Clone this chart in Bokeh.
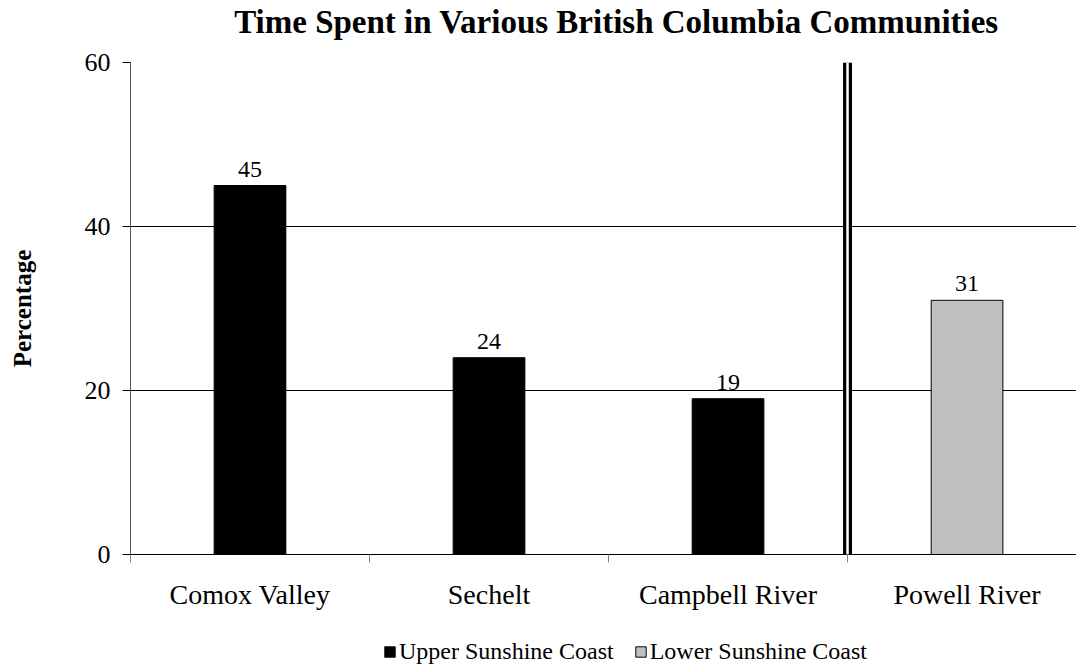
from bokeh.plotting import figure
from bokeh.layouts import column
from bokeh.models import (Range1d, FixedTicker, ColumnDataSource, Legend, LegendItem,
                          Span, Label, LabelSet)
from bokeh.embed import file_html
from bokeh.resources import INLINE

# ---- data ----
categories = ["Comox Valley", "Sechelt", "Campbell River", "Powell River"]
values = [45, 24, 19, 31]
regions = ["Upper Sunshine Coast", "Upper Sunshine Coast", "Upper Sunshine Coast",
           "Lower Sunshine Coast"]
region_names = ["Upper Sunshine Coast", "Lower Sunshine Coast"]
region_colors = {"Upper Sunshine Coast": "#000000", "Lower Sunshine Coast": "#C0C0C0"}
y_ticks = [0, 20, 40, 60]
title_text = "Time Spent in Various British Columbia Communities"
y_label = "Percentage"

FONT = "Liberation Serif"
W = 1076
LEFT = 130

centers = [i + 0.5 for i in range(len(categories))]
src = ColumnDataSource(dict(
    x=centers, top=values, cat=categories, region=regions,
    color=[region_colors[r] for r in regions],
    label=[str(v) for v in values],
))

# ---- title strip ----
t = figure(width=W, height=40, output_backend="svg", toolbar_location=None,
           x_axis_type=None, y_axis_type=None, min_border_left=LEFT,
           min_border_right=0, min_border_top=0, min_border_bottom=0,
           x_range=Range1d(0, 1), y_range=Range1d(0, 1))
t.outline_line_color = None
t.grid.visible = False
t.add_layout(Label(x=486, y=1, x_units="screen", y_units="screen", text=title_text,
                   text_align="center", text_baseline="bottom",
                   text_font=FONT, text_font_size="33px", text_font_style="bold",
                   text_color="black"))

# ---- main chart ----
p = figure(width=W, height=580, output_backend="svg", toolbar_location=None,
           x_range=Range1d(0, 3.958), y_range=Range1d(0, 60),
           min_border_left=LEFT, min_border_right=0, min_border_top=22,
           min_border_bottom=66)
p.outline_line_color = None
p.background_fill_color = "white"
p.border_fill_color = "white"

# bars
r = p.vbar(x="x", top="top", width=0.3, source=src, fill_color="color",
           line_color="black", line_width=1)

# value labels
p.add_layout(LabelSet(x="x", y="top", text="label", source=src, text_align="center",
                      text_baseline="bottom", y_offset=9, text_font_size="24px",
                      text_font=FONT, text_color="black"))

# separator double line
p.add_layout(Span(location=3, dimension="height", line_color="black", line_width=9))
p.add_layout(Span(location=3, dimension="height", line_color="white", line_width=2.5))

# grid
p.xgrid.visible = False
p.ygrid.ticker = FixedTicker(ticks=[20, 40, 60])
p.ygrid.grid_line_color = "black"
p.ygrid.grid_line_width = 1

# y axis
p.yaxis.ticker = FixedTicker(ticks=y_ticks)
p.yaxis.axis_line_color = "#555555"
p.yaxis.major_tick_line_color = "black"
p.yaxis.major_tick_out = 8
p.yaxis.major_tick_in = 0
p.yaxis.minor_tick_line_color = None
p.yaxis.major_label_text_font = FONT
p.yaxis.major_label_text_font_size = "26px"
p.yaxis.major_label_text_color = "black"
p.yaxis.major_label_standoff = 12
p.yaxis.axis_label = y_label
p.yaxis.axis_label_text_font = FONT
p.yaxis.axis_label_text_font_size = "25px"
p.yaxis.axis_label_text_font_style = "bold"
p.yaxis.axis_label_text_color = "black"
p.yaxis.axis_label_standoff = 46

# x axis
p.xaxis.ticker = FixedTicker(ticks=centers, minor_ticks=list(range(len(categories))))
p.xaxis.major_label_overrides = {c: name for c, name in zip(centers, categories)}
p.xaxis.axis_line_color = "black"
p.xaxis.major_tick_line_color = None
p.xaxis.major_tick_out = 0
p.xaxis.major_tick_in = 0
p.xaxis.minor_tick_line_color = "#808080"
p.xaxis.minor_tick_out = 8
p.xaxis.minor_tick_in = 0
p.xaxis.major_label_text_font = FONT
p.xaxis.major_label_text_font_size = "28px"
p.xaxis.major_label_text_color = "black"
p.xaxis.major_label_standoff = 16

# ---- legend strip ----
q = figure(width=W, height=48, output_backend="svg", toolbar_location=None,
           x_axis_type=None, y_axis_type=None, min_border_left=LEFT,
           min_border_right=0, min_border_top=0, min_border_bottom=0,
           x_range=Range1d(0, 1), y_range=Range1d(0, 1))
q.outline_line_color = None
q.grid.visible = False
swatches = []
for name in region_names:
    # swatch renderers lie below the visible range; only their legend glyph shows
    swatches.append(q.vbar(x=[0.5], bottom=[-11], top=[-10], width=0.1,
                           fill_color=region_colors[name], line_color="black"))
legend = Legend(items=[LegendItem(label=n, renderers=[rr])
                       for n, rr in zip(region_names, swatches)],
                orientation="horizontal", location=(253, 3))
legend.padding = 0
legend.margin = 0
legend.spacing = 20
legend.label_standoff = 3
legend.glyph_width = 13
legend.glyph_height = 13
legend.label_text_font = FONT
legend.label_text_font_size = "24px"
legend.label_text_color = "black"
legend.border_line_color = None
legend.background_fill_alpha = 0
q.add_layout(legend, "center")

layout = column(t, p, q, spacing=0)
open("out.html", "w").write(file_html(layout, INLINE))
